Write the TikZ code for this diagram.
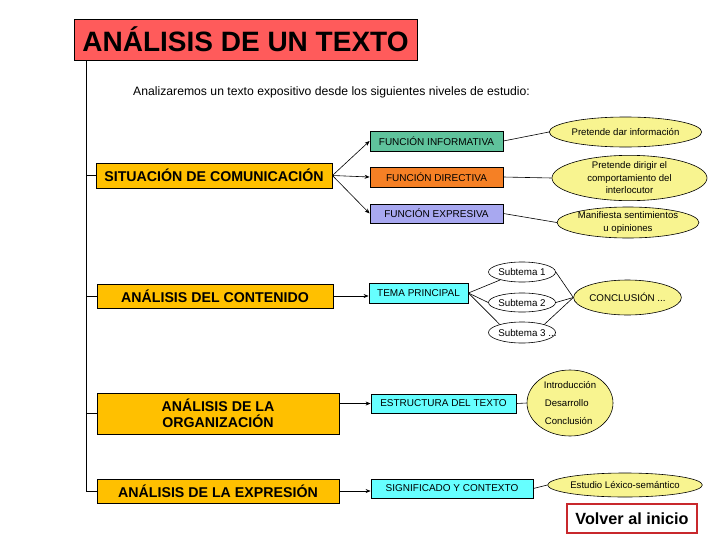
\documentclass[tikz,border=0pt]{standalone}
\usepackage{fontspec}
\setmainfont{Liberation Sans}
\usetikzlibrary{shapes.geometric,arrows.meta}
\definecolor{titlered}{HTML}{FF5B5B}
\definecolor{lvlyellow}{HTML}{FFC000}
\definecolor{fngreen}{HTML}{5FC39C}
\definecolor{fnorange}{HTML}{F58025}
\definecolor{fnlav}{HTML}{A8A8F0}
\definecolor{fncyan}{HTML}{66FFFF}
\definecolor{ovalyellow}{HTML}{F8F490}
\definecolor{backred}{HTML}{C8282C}
\begin{document}
\begin{tikzpicture}[x=1pt,y=-1pt,
 box/.style={draw=black, line width=0.8pt, inner sep=0pt, anchor=center},
 lvl/.style={box, fill=lvlyellow, font=\bfseries\fontsize{14.2}{16}\selectfont, align=center},
 fn/.style={box, font=\fontsize{10}{11}\selectfont},
 oval/.style={ellipse, draw=black, line width=0.6pt, fill=ovalyellow, inner sep=0pt, font=\fontsize{9.6}{12.5}\selectfont, align=center},
 subt/.style={ellipse, draw=black, line width=0.6pt, fill=white, inner sep=0pt, font=\fontsize{9.8}{11}\selectfont},
 conn/.style={draw=black, line width=0.6pt},
 arr/.style={conn, -{Stealth[length=5pt,width=4pt]}}
]
\useasboundingbox (0,0) rectangle (728,546);

% title
\node[box, fill=titlered, minimum width=343, minimum height=41,
      font=\bfseries\fontsize{28}{30}\selectfont] (title) at (245.5,39.5) {ANÁLISIS DE UN TEXTO};
\node[anchor=base west, inner sep=0pt, font=\fontsize{12.2}{14}\selectfont] (intro) at (133,95)
  {Analizaremos un texto expositivo desde los siguientes niveles de estudio:};

% level boxes
\node[lvl, minimum width=236, minimum height=25] (l1) at (214,175.5) {SITUACIÓN DE COMUNICACIÓN};
\node[lvl, minimum width=236, minimum height=24] (l2) at (215,296) {ANÁLISIS DEL CONTENIDO};
\node[lvl, minimum width=242, minimum height=41] (l3) at (218,413.5) {ANÁLISIS DE LA\\ORGANIZACIÓN};
\node[lvl, minimum width=242, minimum height=24] (l4) at (218,491) {ANÁLISIS DE LA EXPRESIÓN};

% trunk
\coordinate (ttop) at (86,60);
\coordinate (tbot) at (86,491);
\draw[conn, line width=0.8pt] (ttop) -- (tbot) -- (l4.west);
\draw[conn, line width=0.8pt] (l1.west -| ttop) -- (l1.west);
\draw[conn, line width=0.8pt] (l2.west -| ttop) -- (l2.west);
\draw[conn, line width=0.8pt] (l3.west -| ttop) -- (l3.west);

% functions
\node[fn, fill=fngreen, minimum width=133, minimum height=20] (f1) at (436.5,141) {FUNCIÓN INFORMATIVA};
\node[fn, fill=fnorange, minimum width=133, minimum height=20] (f2) at (436.5,177) {FUNCIÓN DIRECTIVA};
\node[fn, fill=fnlav, minimum width=133, minimum height=19] (f3) at (436.5,213.5) {FUNCIÓN EXPRESIVA};
\draw[arr] (l1.east) -- (f1.west);
\draw[arr] (l1.east) -- (f2.west);
\draw[arr] (l1.east) -- (f3.west);

\node[oval, minimum width=136, minimum height=30] (o1) at (625.5,132) {Pretende dar información};
\node[oval, minimum width=155, minimum height=43] (o2) at (629.5,178) {Pretende dirigir el\\comportamiento del\\interlocutor};
\node[oval, minimum width=140, minimum height=31] (o3) at (628,222.5) {Manifiesta sentimientos\\u opiniones};
\draw[conn] (f1.east) -- (o1.west);
\draw[conn] (f2.east) -- (o2.west);
\draw[conn] (f3.east) -- (o3.west);

% contenido
\node[fn, fill=fncyan, minimum width=99, minimum height=20] (tp) at (418.5,293) {TEMA PRINCIPAL};
\draw[arr] (l2.east) -- (l2.east -| tp.west);
\node[subt, minimum width=62, minimum height=20] (s1) at (522,272) {Subtema 1};
\node[subt, minimum width=62, minimum height=19] (s2) at (522,302.5) {Subtema 2};
\node[subt, minimum width=62, minimum height=21] (s3) at (522,332.5) {Subtema 3\rlap{ ...}};
\node[oval, font=\fontsize{9.8}{11}\selectfont, minimum width=91, minimum height=35] (cc) at (627.5,297.5) {CONCLUSIÓN ...};
\draw[conn] (tp.east) -- (s1.200);
\draw[conn] (tp.east) -- (s2.west);
\draw[conn] (tp.east) -- (s3.160);
\draw[conn] (s1.east) -- (cc.west);
\draw[conn] (s2.east) -- (cc.west);
\draw[conn] (s3.20) -- (cc.west);

% organizacion
\node[fn, fill=fncyan, minimum width=145, minimum height=19] (es) at (443.5,403.5) {ESTRUCTURA DEL TEXTO};
\draw[arr] (l3.east |- es.west) -- (es.west);
\node[oval, font=\fontsize{9.6}{18}\selectfont, align=left, minimum width=86, minimum height=66] (ei) at (570,403)
  {Introducción\\\hspace*{1pt}Desarrollo\\\hspace*{1pt}Conclusión};
\draw[conn] (es.east) -- (ei.west);

% expresion
\node[fn, fill=fncyan, minimum width=162, minimum height=19] (sg) at (452,488.5) {SIGNIFICADO Y CONTEXTO};
\draw[arr] (l4.east) -- (l4.east -| sg.west);
\node[oval, minimum width=146, minimum height=24] (lx) at (625,485) {Estudio Léxico-semántico};
\draw[conn] (sg.east) -- (lx.west);

% back button
\node[draw=backred, line width=1.5pt, fill=white, inner sep=0pt, minimum width=130, minimum height=29,
      font=\bfseries\fontsize{16.2}{18}\selectfont] (back) at (632,518.5) {Volver al inicio};
\end{tikzpicture}
\end{document}
